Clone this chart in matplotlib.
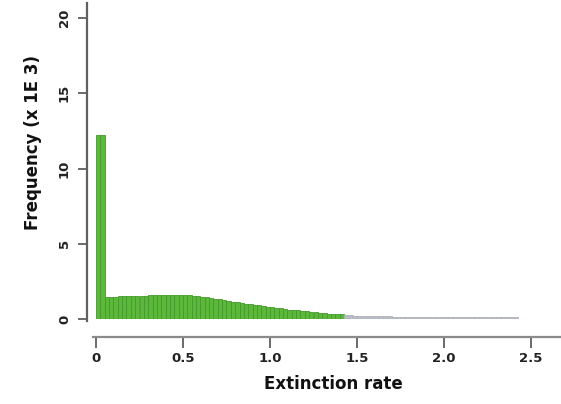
import matplotlib
matplotlib.use("Agg")
import matplotlib.pyplot as plt
import numpy as np

# Data (frequencies in thousands), bin width 0.025
bin_width = 0.025
bin_lefts = [round(i * bin_width, 3) for i in range(97)]
heights = [
    12.2, 12.2, 1.48, 1.48, 1.49, 1.50, 1.50, 1.51, 1.52, 1.53,
    1.55, 1.56, 1.57, 1.58, 1.59, 1.60, 1.60, 1.61, 1.61, 1.60,
    1.60, 1.58, 1.55, 1.52, 1.48, 1.44, 1.40, 1.35, 1.30, 1.25,
    1.20, 1.15, 1.10, 1.06, 1.02, 0.98, 0.94, 0.90, 0.86, 0.82,
    0.78, 0.74, 0.70, 0.67, 0.63, 0.60, 0.57, 0.54, 0.51, 0.48,
    0.45, 0.42, 0.39, 0.36, 0.34, 0.32, 0.30, 0.26, 0.24, 0.23,
    0.22, 0.21, 0.20, 0.19, 0.18, 0.18, 0.17, 0.17, 0.16, 0.16,
    0.16, 0.15, 0.15, 0.15, 0.15, 0.14, 0.14, 0.14, 0.14, 0.14,
    0.13, 0.13, 0.13, 0.13, 0.13, 0.12, 0.12, 0.12, 0.12, 0.12,
    0.12, 0.11, 0.11, 0.11, 0.11, 0.10, 0.10,
]
green_count = 57
x_ticks = [0, 0.5, 1.0, 1.5, 2.0, 2.5]
x_ticklabels = ["0", "0.5", "1.0", "1.5", "2.0", "2.5"]
y_ticks = [0, 5, 10, 15, 20]
y_ticklabels = ["0", "5", "10", "15", "20"]
x_label = "Extinction rate"
y_label = "Frequency (x 1E 3)"

plt.rcParams['font.family'] = ['DejaVu Sans']

W, H = 561, 404
fig = plt.figure(figsize=(W / 100, H / 100), dpi=100)
left_px, right_px = 87, 561
top_px, bottom_px = 3, 319
ax = fig.add_axes([left_px / W, (H - bottom_px) / H,
                   (right_px - left_px) / W, (bottom_px - top_px) / H])

x0_px, px_per_unit = 96, 174.0
ax.set_xlim((left_px - x0_px) / px_per_unit, (right_px - x0_px) / px_per_unit)
ppu_y = 15.05
ax.set_ylim(0, (bottom_px - top_px) / ppu_y)

colors = ['#5cb83a' if i < green_count else '#b9bcc4' for i in range(len(heights))]
edges = ['#43992a' if i < green_count else '#b0b3ba' for i in range(len(heights))]
ax.bar(bin_lefts, heights, width=bin_width, align='edge',
       color=colors, edgecolor=edges, linewidth=0.6)

for s in ['top', 'right']:
    ax.spines[s].set_visible(False)
ax.spines['left'].set_color('#606060')
ax.spines['left'].set_linewidth(1.6)
ax.spines['left'].set_bounds(-0.1, 21)
ax.spines['bottom'].set_color('#8a8a8a')
ax.spines['bottom'].set_linewidth(1.6)
ax.spines['bottom'].set_position(('outward', 13))
ax.spines['bottom'].set_bounds(-0.02, 2.7)

ax.set_xticks(x_ticks)
ax.set_xticklabels(x_ticklabels, fontsize=9.5, fontweight='semibold', color='#222222')
ax.set_yticks(y_ticks)
ax.set_yticklabels(y_ticklabels, fontsize=9.5, fontweight='semibold', color='#222222',
                   rotation=90, va='center')
ax.tick_params(axis='x', length=8, width=1.4, color='#6a6a6a', pad=3)
ax.tick_params(axis='y', length=6.5, width=1.4, color='#6a6a6a', pad=5)

fig.text(333 / W, 1 - 384 / H, x_label, ha='center', va='center',
         fontsize=12, color='#111111', fontweight='semibold')
fig.text(33 / W, 1 - 142 / H, y_label, ha='center', va='center',
         fontsize=12, color='#111111', rotation=90, fontweight='semibold')

fig.savefig("out.png", dpi=100)
